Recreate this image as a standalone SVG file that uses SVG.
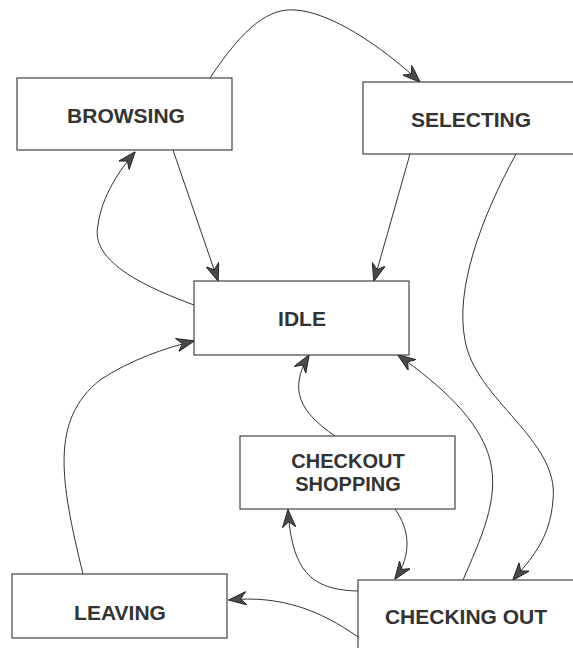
<svg xmlns="http://www.w3.org/2000/svg" width="573" height="648" viewBox="0 0 573 648">
<style>
.box{fill:#fff;stroke:#444;stroke-width:1.2}
.lbl{font-family:"Liberation Sans",Arial,sans-serif;font-weight:bold;font-size:21px;fill:#333;text-anchor:middle}
.sm{font-size:20px}
.edge{fill:none;stroke:#333;stroke-width:1;marker-end:url(#arr)}
</style>
<defs>
<marker id="arr" viewBox="0 0 16 12" refX="15.5" refY="6" markerWidth="18" markerHeight="14" markerUnits="userSpaceOnUse" orient="auto">
<path d="M0,0 L16,6 L0,12 L5,6 z" fill="#4a4a4a" stroke="#222" stroke-width="0.8"/>
</marker>
</defs>
<rect width="573" height="648" fill="#fff"/>
<g id="connectors">
<path class="edge" d="M210,78 C245,25 270,8 295,10 C330,12 380,45 420,82"/>
<path class="edge" d="M173,150 L218,281"/>
<path class="edge" d="M194,305 C140,285 90,260 98,225 C102,195 120,170 135,152"/>
<path class="edge" d="M410,154 L374,281"/>
<path class="edge" d="M516,154 C480,220 455,290 465,340 C475,400 560,440 553,500 C550,540 530,560 513,580"/>
<path class="edge" d="M463,580 C480,540 500,500 490,460 C480,420 440,385 398,355"/>
<path class="edge" d="M335,436 C300,412 288,390 309,355"/>
<path class="edge" d="M395,509 C410,530 412,555 395,579"/>
<path class="edge" d="M358,591 C310,590 292,570 288,510"/>
<path class="edge" d="M358,637 C320,610 280,595 229,600"/>
<path class="edge" d="M83,574 C60,480 50,420 100,380 C130,360 165,348 194,341"/>
</g>
<g id="browsing"><rect class="box" x="17" y="78" width="215" height="72"/><text class="lbl" x="126" y="123">BROWSING</text></g>
<g id="selecting"><rect class="box" x="363" y="82" width="212" height="72"/><text class="lbl" x="471" y="127">SELECTING</text></g>
<g id="idle"><rect class="box" x="194" y="281" width="215" height="74"/><text class="lbl" x="302" y="326">IDLE</text></g>
<g id="checkout-shopping"><rect class="box" x="240" y="436" width="215" height="73"/><text class="lbl sm" x="348" y="468">CHECKOUT</text><text class="lbl sm" x="348" y="491">SHOPPING</text></g>
<g id="leaving"><rect class="box" x="12" y="574" width="215" height="64"/><text class="lbl" x="120" y="620">LEAVING</text></g>
<g id="checking-out"><rect class="box" x="358" y="580" width="217" height="80"/><text class="lbl" x="466" y="624">CHECKING OUT</text></g>
</svg>
